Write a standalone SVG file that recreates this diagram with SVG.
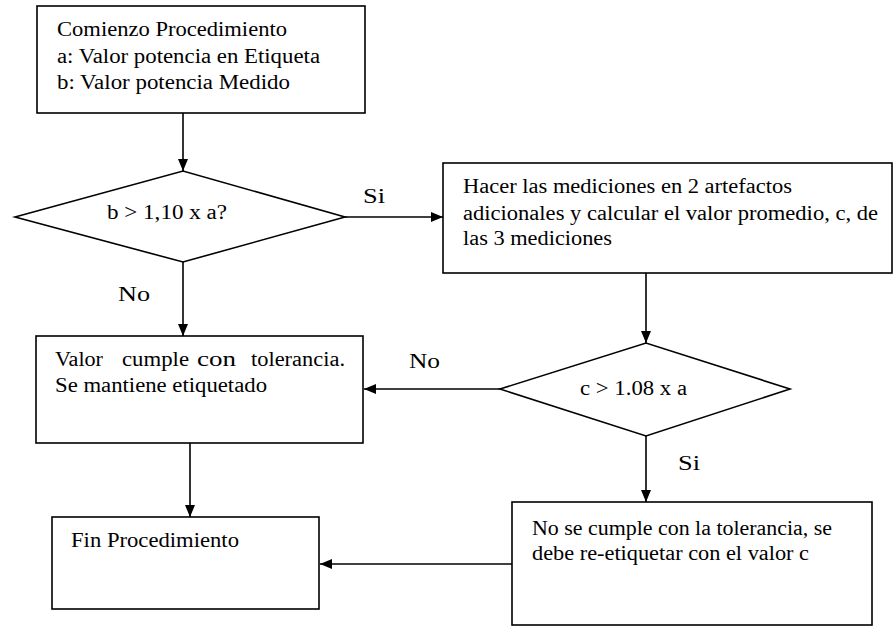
<svg xmlns="http://www.w3.org/2000/svg" width="894" height="628" viewBox="0 0 894 628">
<style>
.box{fill:#fff;stroke:#000;stroke-width:1.6}
text{font-family:"Times New Roman","Liberation Serif","DejaVu Serif",serif;font-size:20px;fill:#000}
.c line{stroke:#000;stroke-width:1.6}
</style>
<defs>
<marker id="ah" markerUnits="userSpaceOnUse" markerWidth="12" markerHeight="12" viewBox="0 0 12 12" refX="12" refY="6" orient="auto">
<path d="M0,1 L12,6 L0,11 Z" fill="#000"/>
</marker>
</defs>
<rect width="894" height="628" fill="#fff"/>
<g id="connectors" class="c">
<line x1="183" y1="113" x2="183" y2="171" marker-end="url(#ah)"/>
<line x1="345" y1="217" x2="443" y2="217" marker-end="url(#ah)"/>
<line x1="183" y1="262" x2="183" y2="336" marker-end="url(#ah)"/>
<line x1="646" y1="273" x2="646" y2="343" marker-end="url(#ah)"/>
<line x1="500" y1="389" x2="364" y2="389" marker-end="url(#ah)"/>
<line x1="646" y1="436" x2="646" y2="502" marker-end="url(#ah)"/>
<line x1="190" y1="443" x2="190" y2="517" marker-end="url(#ah)"/>
<line x1="512" y1="564" x2="320" y2="564" marker-end="url(#ah)"/>
<text x="363" y="203" textLength="22" lengthAdjust="spacingAndGlyphs">Si</text>
<text x="118" y="301" textLength="32" lengthAdjust="spacingAndGlyphs">No</text>
<text x="409" y="368" textLength="31" lengthAdjust="spacingAndGlyphs">No</text>
<text x="678" y="470" textLength="22" lengthAdjust="spacingAndGlyphs">Si</text>
</g>
<g id="start">
<rect class="box" x="37" y="6" width="328" height="107"/>
<text x="57" y="36" textLength="230" lengthAdjust="spacingAndGlyphs">Comienzo Procedimiento</text>
<text x="57" y="63" textLength="263" lengthAdjust="spacingAndGlyphs">a: Valor potencia en Etiqueta</text>
<text x="57" y="89" textLength="233" lengthAdjust="spacingAndGlyphs">b: Valor potencia Medido</text>
</g>
<g id="decision1">
<polygon class="box" points="15,217 183,171 345,217 183,262"/>
<text x="107" y="219" textLength="120" lengthAdjust="spacingAndGlyphs">b &gt; 1,10 x a?</text>
</g>
<g id="measure">
<rect class="box" x="443" y="163" width="449" height="110"/>
<text x="463" y="193" textLength="329" lengthAdjust="spacingAndGlyphs">Hacer las mediciones en 2 artefactos</text>
<text x="463" y="220" textLength="415" lengthAdjust="spacingAndGlyphs">adicionales y calcular el valor promedio, c, de</text>
<text x="463" y="245" textLength="149" lengthAdjust="spacingAndGlyphs">las 3 mediciones</text>
</g>
<g id="decision2">
<polygon class="box" points="500,389 646,343 790,389 646,436"/>
<text x="580" y="395" textLength="107" lengthAdjust="spacingAndGlyphs">c &gt; 1.08 x a</text>
</g>
<g id="ok">
<rect class="box" x="36" y="336" width="327" height="107"/>
<text y="366"><tspan x="55" textLength="48" lengthAdjust="spacingAndGlyphs">Valor</tspan> <tspan x="122" textLength="67" lengthAdjust="spacingAndGlyphs">cumple</tspan> <tspan x="197" textLength="39" lengthAdjust="spacingAndGlyphs">con</tspan> <tspan x="251" textLength="94" lengthAdjust="spacingAndGlyphs">tolerancia.</tspan></text>
<text x="55" y="392" textLength="212" lengthAdjust="spacingAndGlyphs">Se mantiene etiquetado</text>
</g>
<g id="end">
<rect class="box" x="52" y="517" width="267" height="92"/>
<text x="71" y="547" textLength="168" lengthAdjust="spacingAndGlyphs">Fin Procedimiento</text>
</g>
<g id="relabel">
<rect class="box" x="512" y="502" width="360" height="123"/>
<text x="532" y="535" textLength="300" lengthAdjust="spacingAndGlyphs">No se cumple con la tolerancia, se</text>
<text x="532" y="560" textLength="277" lengthAdjust="spacingAndGlyphs">debe re-etiquetar con el valor c</text>
</g>
</svg>
